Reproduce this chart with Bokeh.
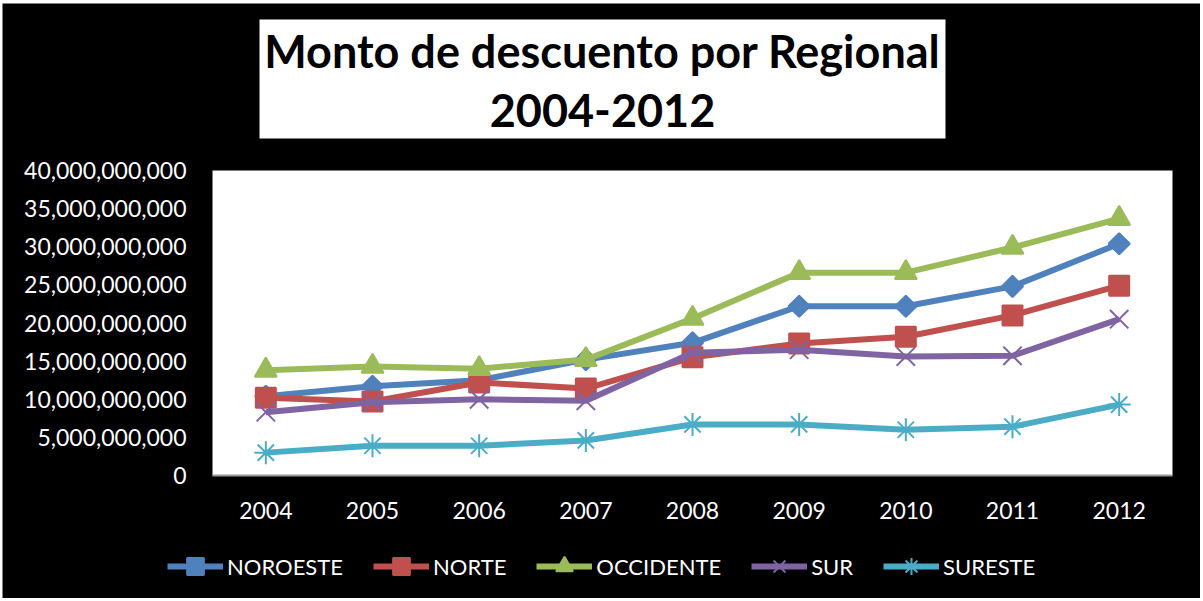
import numpy as np
from bokeh.plotting import figure
from bokeh.models import (Range1d, FixedTicker, NumeralTickFormatter, Legend, LegendItem,
                          LinearAxis)
from bokeh.core.properties import value
from bokeh.embed import file_html
from bokeh.resources import INLINE

# ---------------- data ----------------
years = ["2004", "2005", "2006", "2007", "2008", "2009", "2010", "2011", "2012"]
noroeste = [10.4e9, 11.7e9, 12.5e9, 15.2e9, 17.4e9, 22.2e9, 22.2e9, 24.8e9, 30.4e9]
norte = [10.2e9, 9.7e9, 12.2e9, 11.4e9, 15.5e9, 17.3e9, 18.2e9, 21.0e9, 24.9e9]
occidente = [13.8e9, 14.3e9, 14.0e9, 15.2e9, 20.6e9, 26.6e9, 26.6e9, 29.9e9, 33.7e9]
sur = [8.3e9, 9.6e9, 10.0e9, 9.8e9, 16.1e9, 16.5e9, 15.6e9, 15.7e9, 20.5e9]
sureste = [3.0e9, 3.9e9, 3.9e9, 4.6e9, 6.7e9, 6.7e9, 6.0e9, 6.4e9, 9.3e9]
series_names = ["NOROESTE", "NORTE", "OCCIDENTE", "SUR", "SURESTE"]
y_ticks = [0, 5e9, 10e9, 15e9, 20e9, 25e9, 30e9, 35e9, 40e9]
y_max = 40e9
title_lines = ["Monto de descuento por Regional", "2004-2012"]

series_values = [noroeste, norte, occidente, sur, sureste]
colors = ["#4F81BD", "#C0504D", "#9BBB59", "#8064A2", "#4BACC6"]
markers = ["square", "square", "triangle", "x", "asterisk"]
msizes = [15, 20, 22, 26, 23]
angles = [np.pi / 4, 0, 0, 0, 0]

FONT = "Lato"

# ---------------- layout geometry (page pixels) ----------------
PAGE_L, PAGE_T, PAGE_R, PAGE_B = 2, 3, 1200, 598
PLOT_L, PLOT_R, PLOT_T, PLOT_B = 212, 1172, 170, 475
n = len(years)
xpos = list(range(n))                      # category index positions
x_per_px = n / (PLOT_R - PLOT_L)
y_per_px = y_max / (PLOT_B - PLOT_T)
x_range = Range1d(-0.5 - (PLOT_L - PAGE_L) * x_per_px, n - 0.5 + (PAGE_R - PLOT_R) * x_per_px)
y_range = Range1d(-(PAGE_B - PLOT_B) * y_per_px, y_max + (PLOT_T - PAGE_T) * y_per_px)

p = figure(width=PAGE_R - PAGE_L, height=PAGE_B - PAGE_T, x_range=x_range, y_range=y_range,
           x_axis_type=None, y_axis_type=None, min_border=0,
           output_backend="svg", toolbar_location=None)
p.margin = (PAGE_T, 0, 0, PAGE_L)
p.background_fill_color = "black"
p.border_fill_color = "black"
p.outline_line_color = None
p.grid.grid_line_color = None

# page-pixel coordinate system for decorations
p.extra_x_ranges = {"px": Range1d(PAGE_L, PAGE_R)}
p.extra_y_ranges = {"px": Range1d(PAGE_B, PAGE_T)}

# title box + title
p.quad(left=[259], right=[945], top=[19], bottom=[138], fill_color="white", line_color=None,
       x_range_name="px", y_range_name="px")
p.text(x=[602, 602], y=[50, 110], text=title_lines, text_align="center",
       text_baseline="middle", text_font=value(FONT), text_font_style="bold",
       text_font_size="45px", text_color="black", x_range_name="px", y_range_name="px")

# white plot area
p.quad(left=[-0.5], right=[n - 0.5], bottom=[0], top=[y_max], fill_color="white", line_color=None)

# axes
yaxis = LinearAxis(ticker=FixedTicker(ticks=y_ticks), formatter=NumeralTickFormatter(format="0,0"),
                   fixed_location=-0.5, bounds=(0, y_max))
yaxis.axis_line_color = None
yaxis.major_tick_line_color = None
yaxis.minor_tick_line_color = None
yaxis.major_tick_in = 0
yaxis.major_tick_out = 0
yaxis.major_label_standoff = 26
yaxis.major_label_text_color = "white"
yaxis.major_label_text_font = FONT
yaxis.major_label_text_font_size = "23px"
p.add_layout(yaxis, "left")

xaxis = LinearAxis(ticker=FixedTicker(ticks=xpos),
                   major_label_overrides={i: y for i, y in zip(xpos, years)},
                   fixed_location=0, bounds=(-0.5, n - 0.5))
xaxis.axis_line_color = "#9a9a9a"
xaxis.axis_line_width = 2
xaxis.major_tick_line_color = None
xaxis.minor_tick_line_color = None
xaxis.major_tick_in = 0
xaxis.major_tick_out = 0
xaxis.major_label_standoff = 26
xaxis.major_label_text_color = "white"
xaxis.major_label_text_font = FONT
xaxis.major_label_text_font_size = "23px"
p.add_layout(xaxis, "below")

# series
items = []
for name, vals, c, m, s, a in zip(series_names, series_values, colors, markers, msizes, angles):
    lr = p.line(x=xpos, y=vals, line_color=c, line_width=6)
    sr = p.scatter(x=xpos, y=vals, marker=m, size=s, angle=a, fill_color=c,
                   line_color=c, line_width=2)
    items.append(LegendItem(label=name, renderers=[lr, sr]))

legend = Legend(items=items, orientation="horizontal", location=(165, 11),
                glyph_width=56, glyph_height=42, label_standoff=4, spacing=30,
                padding=0, margin=0, background_fill_alpha=0, border_line_color=None,
                label_text_color="white", label_text_font=FONT, label_text_font_size="22px")
p.add_layout(legend, "center")

open("out.html", "w").write(file_html(p, INLINE))
